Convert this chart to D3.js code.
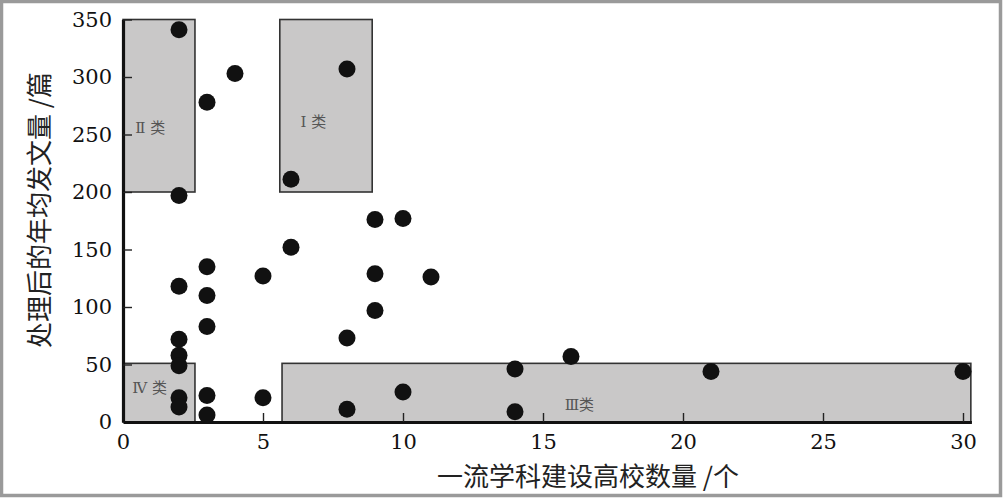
<!DOCTYPE html>
<html><head><meta charset="utf-8">
<script src="https://cdn.jsdelivr.net/npm/d3@7"></script>
<style>
html,body{margin:0;padding:0;background:#fff;}
svg{display:block;}
</style>
</head><body>
<svg id="chart" width="1004" height="499"></svg>
<script>
// ---- data ----
const xValues = [2,2,3,4,8,6,2,3,3,3,5,6,9,10,9,9,11,8,2,2,2,2,2,3,3,5,8,10,14,14,16,21,30];
const yValues = [341,197,278,303,307,211,118,135,110,83,127,152,176,177,129,97,126,73,72,58,49,21,13,23,6,21,11,26,46,9,57,44,44];
const boxLabels = ["Ⅰ 类","Ⅱ 类","Ⅲ类","Ⅳ 类"];
const boxX0 = [5.6, 0, 5.68, 0];
const boxX1 = [8.9, 2.57, 30.28, 2.57];
const boxY0 = [200, 200, 0, 0];
const boxY1 = [350, 350, 51, 51];
const labelX = [6.8, 0.97, 16.3, 0.95];
const labelY = [261, 256, 15, 30];
const xTicks = [0,5,10,15,20,25,30];
const yTicks = [0,50,100,150,200,250,300,350];
const xTitle = "一流学科建设高校数量 /个";
const yTitle = "处理后的年均发文量 /篇";

const SERIF = '"DejaVu Serif"';
const svg = d3.select("#chart");
const x = d3.scaleLinear().domain([0, 30.3]).range([123, 971.4]);
const y = d3.scaleLinear().domain([0, 350]).range([422, 19.5]);

// outer frame
svg.append("rect").attr("x",1.5).attr("y",1.5).attr("width",999).attr("height",494)
  .attr("fill","none").attr("stroke","#9a9a9a").attr("stroke-width",3.5);

// boxes
const boxes = boxLabels.map((l,i)=>({l, x0:boxX0[i], x1:boxX1[i], y0:boxY0[i], y1:boxY1[i], lx:labelX[i], ly:labelY[i]}));
svg.append("g").selectAll("rect").data(boxes).join("rect")
  .attr("x", d=>x(d.x0)).attr("y", d=>y(d.y1))
  .attr("width", d=>x(d.x1)-x(d.x0)).attr("height", d=>y(d.y0)-y(d.y1))
  .attr("fill","#c9c8c8").attr("stroke","#333").attr("stroke-width",1.6);
svg.append("g").selectAll("text").data(boxes).join("text")
  .attr("x", d=>x(d.lx)).attr("y", d=>y(d.ly))
  .attr("text-anchor","middle").attr("dominant-baseline","central")
  .style("font-family", SERIF + ',"Noto Sans CJK SC"').style("font-size","15px").attr("fill","#555")
  .text(d=>d.l);

// axes
const gx = svg.append("g").attr("transform",`translate(0,${y(0)})`)
  .call(d3.axisBottom(x).tickValues(xTicks).tickSizeInner(-9).tickSizeOuter(0).tickPadding(12).tickFormat(d3.format("d")));
const gy = svg.append("g").attr("transform",`translate(${x(0)},0)`)
  .call(d3.axisLeft(y).tickValues(yTicks).tickSizeInner(-9).tickSizeOuter(0).tickPadding(11).tickFormat(d3.format("d")));
[gx, gy].forEach(g=>{
  g.style("font-family", SERIF).style("font-size","21px");
  g.select(".domain").attr("stroke","#111").attr("stroke-width",3.2);
  g.selectAll(".tick line").attr("stroke","#222").attr("stroke-width",1.4);
  g.selectAll("text").style("font-family", SERIF).style("font-size","21px").attr("fill","#111");
});
gx.selectAll(".tick").filter(d=>d===0).select("line").remove();
gy.selectAll(".tick").filter(d=>d===0).select("line").remove();

// points
svg.append("g").selectAll("circle").data(xValues.map((v,i)=>({x:v,y:yValues[i]}))).join("circle")
  .attr("cx", d=>x(d.x)).attr("cy", d=>y(d.y)).attr("r",8.5).attr("fill","#111");

// titles
svg.append("text").attr("x",588).attr("y",474)
  .attr("text-anchor","middle").attr("dominant-baseline","central")
  .style("font-family",'"Noto Sans CJK SC"').style("font-size","26px").attr("fill","#222")
  .text(xTitle);
svg.append("text").attr("transform","translate(37,210) rotate(-90)")
  .attr("text-anchor","middle").attr("dominant-baseline","central")
  .style("font-family",'"Noto Sans CJK SC"').style("font-size","26px").attr("fill","#222")
  .text(yTitle);
</script>
</body></html>
